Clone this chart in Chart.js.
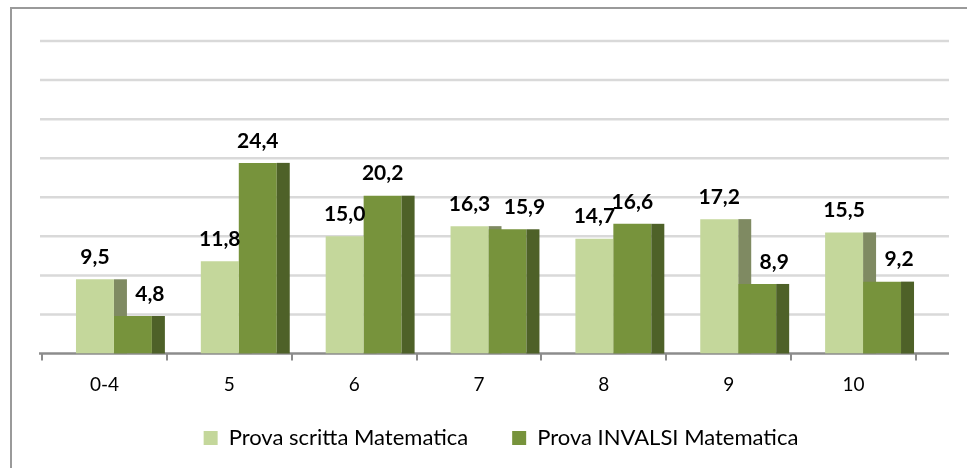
<html>
<head>
  <title></title>
  <style>
    body { margin: 0; background: #fff; overflow: hidden; }
  </style>
</head>
<body>
  <div>
  <canvas id="myChart" width="967" height="468"></canvas>
</div>

<script src="https://cdn.jsdelivr.net/npm/chart.js"></script>

<script>
  const categories = ['0-4', '5', '6', '7', '8', '9', '10'];
  const scrittaValues = [9.5, 11.8, 15.0, 16.3, 14.7, 17.2, 15.5];
  const invalsiValues = [4.8, 24.4, 20.2, 15.9, 16.6, 8.9, 9.2];
  const seriesNames = ['Prova scritta Matematica', 'Prova INVALSI Matematica'];

  const FONT = 'Lato, "Open Sans", sans-serif';
  const DEPTH = 13;     // fake 3d side width
  const SHIFT = 9.5;    // excel puts the front face right of center
  const sideColors = ['#7f8a62', '#4e6128'];

  const fmt = v => v.toFixed(1).replace('.', ',');

  function drawSides(chart, i) {
    const c = chart.ctx;
    c.save();
    c.fillStyle = sideColors[i];
    chart.getDatasetMeta(i).data.forEach(bar => {
      const p = bar.getProps(['x', 'y', 'base', 'width'], true);
      c.fillRect(p.x + p.width / 2, p.y, DEPTH, p.base - p.y);
    });
    c.restore();
  }

  const fakeBox = {
    id: 'fakeBox',
    afterLayout(chart) {
      // legend sits a bit right of the plot centre; give it room to draw
      const lg = chart.legend;
      lg.left += 22;
      lg.right += 22;
      lg.top = 383;
      lg.bottom = chart.height;
    },
    beforeDraw(chart) {
      const c = chart.ctx;
      c.save();
      c.strokeStyle = '#9a9a9a';
      c.lineWidth = 2;
      c.beginPath();
      c.moveTo(11, chart.height + 5);
      c.lineTo(11, 8);
      c.lineTo(chart.width + 5, 8);
      c.stroke();
      c.restore();
    },
    beforeDatasetsDraw(chart) {
      const c = chart.ctx;
      const y = chart.scales.y;
      const area = chart.chartArea;
      c.save();
      // gridlines run past the last category (back wall)
      c.strokeStyle = '#d9d9d9';
      c.lineWidth = 2.5;
      y.ticks.forEach(t => {
        if (t.value === 0) return;
        const py = y.getPixelForValue(t.value);
        c.beginPath();
        c.moveTo(area.left - 2, py);
        c.lineTo(area.right + 33, py);
        c.stroke();
      });
      c.strokeStyle = '#8c8c8c';
      c.lineWidth = 2.5;
      const by = y.getPixelForValue(0);
      c.beginPath();
      c.moveTo(area.left - 3, by);
      c.lineTo(area.right + 33, by);
      c.stroke();
      c.restore();
      c.save();
      c.translate(SHIFT, 0);
      // side of the light bars sits behind the dark front faces
      drawSides(chart, 0);
    },
    afterDatasetsDraw(chart) {
      drawSides(chart, 1);
      const c = chart.ctx;
      c.fillStyle = '#000';
      c.font = 'bold 21px ' + FONT;
      c.textAlign = 'center';
      c.textBaseline = 'middle';
      chart.data.datasets.forEach((ds, i) => {
        const meta = chart.getDatasetMeta(i);
        meta.data.forEach((bar, j) => {
          const p = bar.getProps(['x', 'y'], true);
          let dx = 0;
          if (i === 1 && invalsiValues[j] < scrittaValues[j]) dx = 17;
          c.fillText(fmt(ds.data[j]), p.x + dx, p.y - 22);
        });
      });
      c.restore();
    }
  };

  const ctx = document.getElementById('myChart');
  new Chart(ctx, {
    type: 'bar',
    data: {
      labels: categories,
      datasets: [
        {
          label: seriesNames[0],
          data: scrittaValues,
          backgroundColor: '#c4d79b',
          borderWidth: 0
        },
        {
          label: seriesNames[1],
          data: invalsiValues,
          backgroundColor: '#77933c',
          borderWidth: 0
        }
      ]
    },
    options: {
      responsive: false,
      animation: false,
      events: [],
      layout: {
        padding: { left: 42, right: 51, top: 41, bottom: 4.5 }
      },
      datasets: {
        bar: { barPercentage: 1, categoryPercentage: 0.608 }
      },
      scales: {
        x: {
          grid: {
            drawOnChartArea: false,
            drawTicks: true,
            tickLength: 7,
            color: '#8c8c8c',
            lineWidth: 2
          },
          border: { display: false },
          ticks: {
            color: '#000',
            font: { family: FONT, size: 19 },
            padding: 12.5
          },
          afterFit(scale) { scale.height = 50; }
        },
        y: {
          display: false,
          min: 0,
          max: 40,
          ticks: { stepSize: 5 }
        }
      },
      plugins: {
        tooltip: { enabled: false },
        legend: {
          position: 'bottom',
          maxHeight: 60,
          labels: {
            color: '#000',
            font: { family: FONT, size: 22 },
            boxWidth: 14,
            boxHeight: 14,
            padding: 44
          }
        }
      }
    },
    plugins: [fakeBox]
  });
</script>

</body>
</html>
